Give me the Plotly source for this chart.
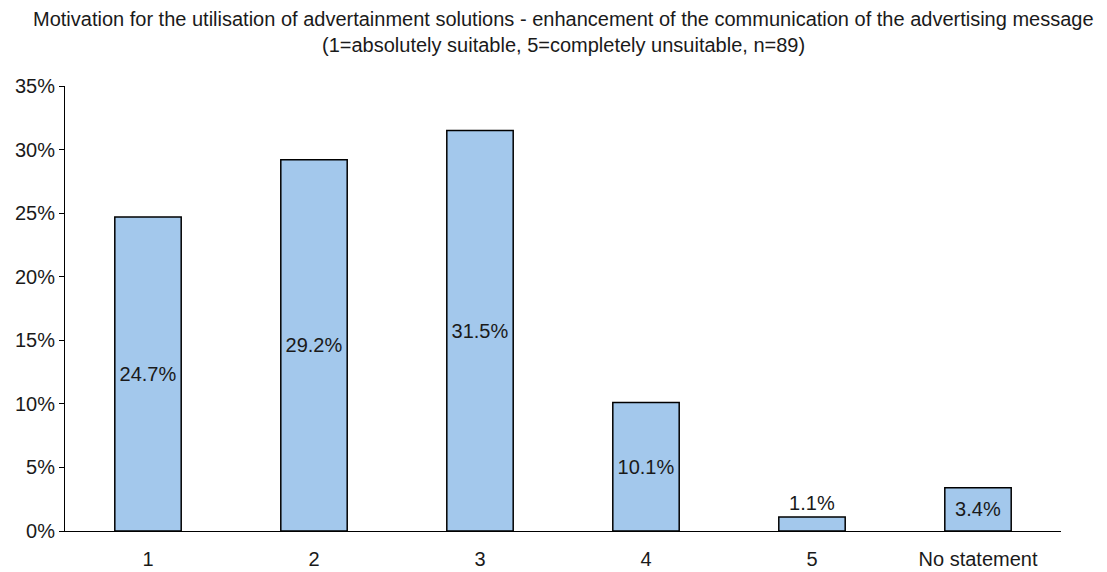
import plotly.graph_objects as go

# Survey answers and their shares in percent
categories = ["1", "2", "3", "4", "5", "No statement"]
shares = [24.7, 29.2, 31.5, 10.1, 1.1, 3.4]
label_positions = ["inside", "inside", "inside", "inside", "outside", "inside"]
y_ticks = [0, 5, 10, 15, 20, 25, 30, 35]

title_lines = [
    "Motivation for the utilisation of advertainment solutions - enhancement of the communication of the advertising message",
    "(1=absolutely suitable, 5=completely unsuitable, n=89)",
]

font_family = "Liberation Sans, Arial, sans-serif"
text_color = "#1a1a1a"

fig = go.Figure(
    go.Bar(
        x=categories,
        y=shares,
        width=0.4,
        marker=dict(color="#A3C8EC", line=dict(color="black", width=1.5)),
        text=[f"{v:.1f}%" for v in shares],
        textposition=label_positions,
        insidetextanchor="middle",
        constraintext="none",
        textfont=dict(size=20, color=text_color, family=font_family),
        cliponaxis=False,
    )
)

# Two-line heading placed above the plot area
plot_h = 572 - 86 - 41
for line, px_y in zip(title_lines, [19, 45]):
    fig.add_annotation(
        text=line,
        xref="paper",
        yref="paper",
        x=0.5,
        y=(531 - px_y) / plot_h,
        xanchor="center",
        yanchor="middle",
        showarrow=False,
        font=dict(size=20, family=font_family, color=text_color),
    )

fig.update_layout(
    width=1107,
    height=572,
    margin=dict(l=65, r=46, t=86, b=41),
    paper_bgcolor="white",
    plot_bgcolor="white",
    showlegend=False,
    font=dict(family=font_family, size=20, color=text_color),
)

fig.update_xaxes(
    showline=True,
    linecolor="black",
    linewidth=1,
    ticks="",
    showgrid=False,
    tickfont=dict(size=20),
    ticklabelstandoff=10,
    automargin=False,
)
fig.update_yaxes(
    range=[0, 35],
    tickvals=y_ticks,
    ticktext=[f"{t}%" for t in y_ticks],
    showline=True,
    linecolor="black",
    linewidth=1,
    ticks="outside",
    ticklen=5,
    tickcolor="black",
    showgrid=False,
    zeroline=False,
    tickfont=dict(size=20),
    automargin=False,
)

fig.write_html("out.html")
